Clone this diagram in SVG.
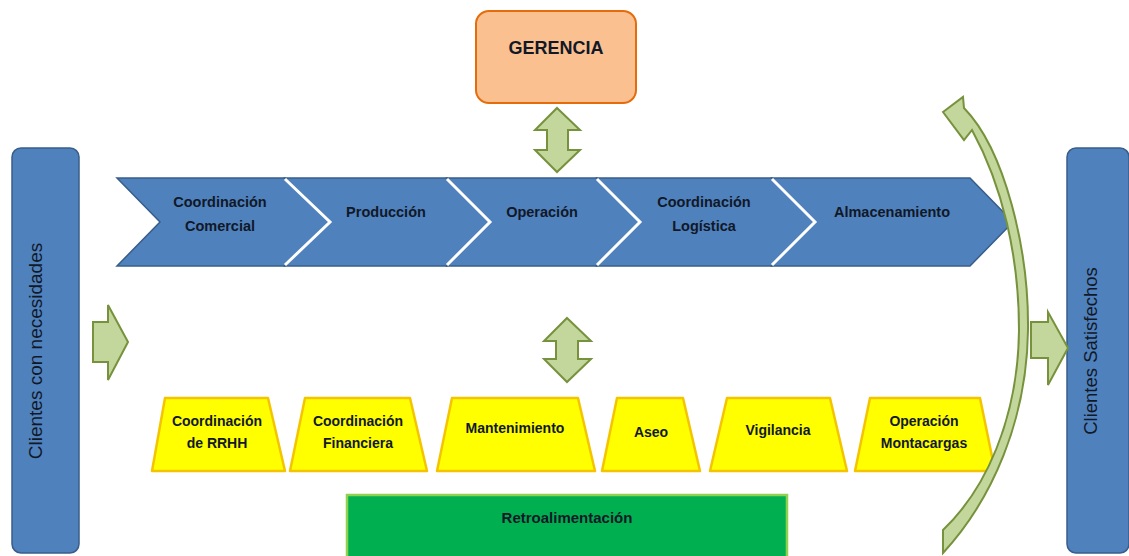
<svg xmlns="http://www.w3.org/2000/svg" width="1129" height="556" viewBox="0 0 1129 556">
<style>
.blue{fill:#4F81BD;stroke:#385D8A;stroke-width:1.5}
.sep{fill:none;stroke:#FFFFFF;stroke-width:3}
.yel{fill:#FFFF00;stroke:#F5C400;stroke-width:2.5;stroke-linejoin:round}
.garr{fill:#C3D69B;stroke:#76923C;stroke-width:2;stroke-linejoin:miter}
.t{font-family:"Liberation Sans",Arial,sans-serif;font-weight:bold;font-size:14px;fill:#111827;text-anchor:middle}
.c{font-size:14.5px}
.v{font-family:"Liberation Sans",Arial,sans-serif;font-size:19px;fill:#111827;text-anchor:middle}
</style>
<rect width="1129" height="556" fill="#FFFFFF"/>
<g id="clientes-necesidades">
<rect x="12" y="148" width="67" height="405" rx="9" class="blue"/>
<text class="v" transform="translate(42,351) rotate(-90)">Clientes con necesidades</text>
</g>
<g id="clientes-satisfechos">
<rect x="1067" y="148" width="62" height="405" rx="9" class="blue"/>
<text class="v" transform="translate(1097,351) rotate(-90)" style="font-size:18.5px">Clientes Satisfechos</text>
</g>
<g id="gerencia">
<rect x="476" y="11" width="160" height="92" rx="13" fill="#FAC090" stroke="#E46C0A" stroke-width="2"/>
<text class="t" x="556" y="54" style="font-size:18px">GERENCIA</text>
</g>
<g id="coord-comercial">
<polygon class="blue" points="117,178 285,178 330,222 285,266 117,266 160,222"/>
<text class="t c" x="220" y="207">Coordinación</text>
<text class="t c" x="220" y="231">Comercial</text>
</g>
<g id="produccion">
<polygon class="blue" points="285,178 447,178 490,222 447,266 285,266 330,222"/>
<polyline class="sep" points="285,179 330,222 285,265"/>
<text class="t c" x="386" y="217">Producción</text>
</g>
<g id="operacion">
<polygon class="blue" points="447,178 597,178 640,222 597,266 447,266 490,222"/>
<polyline class="sep" points="447,179 490,222 447,265"/>
<text class="t c" x="542" y="217">Operación</text>
</g>
<g id="coord-logistica">
<polygon class="blue" points="597,178 772,178 815,222 772,266 597,266 640,222"/>
<polyline class="sep" points="597,179 640,222 597,265"/>
<text class="t c" x="704" y="207">Coordinación</text>
<text class="t c" x="704" y="231">Logística</text>
</g>
<g id="almacenamiento">
<polygon class="blue" points="772,178 970,178 1013,222 970,266 772,266 815,222"/>
<polyline class="sep" points="772,179 815,222 772,265"/>
<text class="t c" x="892" y="217">Almacenamiento</text>
</g>
<g id="coord-rrhh">
<polygon class="yel" points="165,398 268,398 285,471 152,471"/>
<text class="t" x="217" y="426">Coordinación</text>
<text class="t" x="217" y="448">de RRHH</text>
</g>
<g id="coord-financiera">
<polygon class="yel" points="305,398 410,398 427,471 290,471"/>
<text class="t" x="358" y="426">Coordinación</text>
<text class="t" x="358" y="448">Financiera</text>
</g>
<g id="mantenimiento">
<polygon class="yel" points="452,398 578,398 595,471 437,471"/>
<text class="t" x="515" y="433">Mantenimiento</text>
</g>
<g id="aseo">
<polygon class="yel" points="617,398 683,398 700,471 602,471"/>
<text class="t" x="651" y="437">Aseo</text>
</g>
<g id="vigilancia">
<polygon class="yel" points="727,398 830,398 847,471 710,471"/>
<text class="t" x="778" y="435">Vigilancia</text>
</g>
<g id="operacion-montacargas">
<polygon class="yel" points="870,398 980,398 995,471 855,471"/>
<text class="t" x="924" y="426">Operación</text>
<text class="t" x="924" y="448">Montacargas</text>
</g>
<g id="retroalimentacion">
<rect x="347" y="495" width="440" height="64" fill="#00B050" stroke="#92D050" stroke-width="2.5"/>
<text class="t" x="567" y="523" style="font-size:15px">Retroalimentación</text>
</g>
<g id="connectors">
<path class="garr" d="M557,108 L580,130 L568,130 L568,150 L580,150 L557,172 L535,150 L547,150 L547,130 L535,130 Z"/>
<path class="garr" d="M567,318 L591,341 L578,341 L578,359 L591,359 L567,382 L544,359 L556,359 L556,341 L544,341 Z"/>
<path class="garr" d="M93,322 L108,322 L108,305 L128,342 L108,380 L108,362 L93,362 Z"/>
<path class="garr" d="M1031,322 L1048,322 L1048,312 L1068,348 L1048,385 L1048,358 L1031,358 Z"/>
<path class="garr" d="M943,112 L963,97 L964,108 C1005,150 1029,250 1028,330 C1027,420 992,500 943,553 L943,530 C985,490 1018,420 1019,330 C1019,255 1002,185 972,130 L964,140 Z"/>
</g>
</svg>
